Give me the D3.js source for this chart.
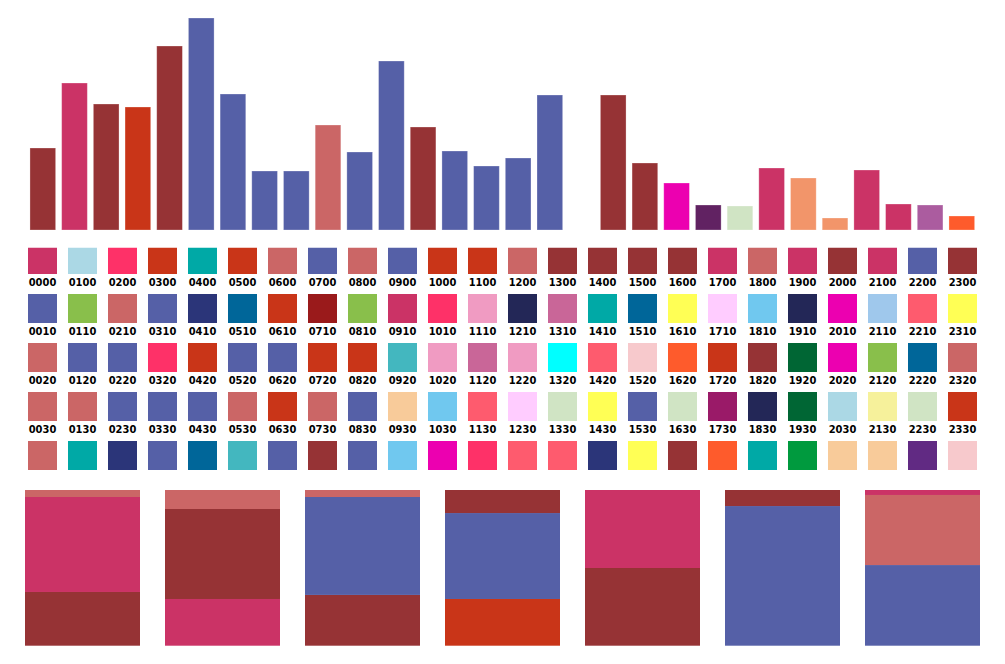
<!DOCTYPE html>
<html>
<head>
<meta charset="utf-8">
<script src="https://cdn.jsdelivr.net/npm/d3@7"></script>
<style>
  body { margin: 0; background: #fff; }
  .code-label { font-family: "DejaVu Sans Condensed", "DejaVu Sans", sans-serif; font-weight: bold; font-size: 11px; fill: #000; }
</style>
</head>
<body>
<div class="vis"></div>
<script>
//Width and height
var w = 1005;
var h = 664;

// colour for each category key
var palette = {
    maroon: "#963335", crimson: "#cb3366", coral: "#cb6666", blue: "#5560a7",
    redorange: "#c93518", lightblue: "#abd8e5", hotpink: "#fe3168", teal: "#00a9a6",
    navy: "#2b3579", ocean: "#006699", green: "#89bf4b", darkred: "#9a1a1b",
    midteal: "#43b7bf", pink: "#f09bc2", darknavy: "#232757", mauve: "#c96698",
    yellow: "#ffff55", lavender: "#ffccff", sky: "#70c8ef", magenta: "#ec00b0",
    steel: "#9fc8ec", salmon: "#fe5b6e", cyan: "#00ffff", palepink: "#f7c9cc",
    orange: "#fe5b2c", darkgreen: "#006634", peach: "#f8cb9a", palegreen: "#d0e4c4",
    plum: "#9a1a68", paleyellow: "#f6f19b", leaf: "#009a3e", violet: "#612a83",
    grape: "#612262", apricot: "#f2956a", orchid: "#ab5c9f"
};

// ---- top bar chart data ----
var barSlots = d3.range(30).map(function(i) { return "s" + i; });
var barValues = [82, 147, 126, 123, 184, 212, 136, 59, 59, 105, 78, 169, 103, 79, 64, 72, 135,
                 0, 135, 67, 47, 25, 24, 62, 52, 12, 60, 26, 25, 14];
var barKeys = ["maroon", "crimson", "maroon", "redorange", "maroon", "blue", "blue", "blue", "blue",
               "coral", "blue", "blue", "maroon", "blue", "blue", "blue", "blue",
               null, "maroon", "maroon", "magenta", "grape", "palegreen", "crimson", "apricot",
               "apricot", "crimson", "crimson", "orchid", "orange"];

// ---- middle swatch grid data ----
var hourLabels = ["00", "01", "02", "03", "04", "05", "06", "07", "08", "09", "10", "11",
                  "12", "13", "14", "15", "16", "17", "18", "19", "20", "21", "22", "23"];
var minuteLabels = ["00", "10", "20", "30"];
var gridRow0 = ["crimson", "lightblue", "hotpink", "redorange", "teal", "redorange", "coral", "blue",
                "coral", "blue", "redorange", "redorange", "coral", "maroon", "maroon", "maroon",
                "maroon", "crimson", "coral", "crimson", "maroon", "crimson", "blue", "maroon"];
var gridRow1 = ["blue", "green", "coral", "blue", "navy", "ocean", "redorange", "darkred",
                "green", "crimson", "hotpink", "pink", "darknavy", "mauve", "teal", "ocean",
                "yellow", "lavender", "sky", "darknavy", "magenta", "steel", "salmon", "yellow"];
var gridRow2 = ["coral", "blue", "blue", "hotpink", "redorange", "blue", "blue", "redorange",
                "redorange", "midteal", "pink", "mauve", "pink", "cyan", "salmon", "palepink",
                "orange", "redorange", "maroon", "darkgreen", "magenta", "green", "ocean", "coral"];
var gridRow3 = ["coral", "coral", "blue", "blue", "blue", "coral", "redorange", "coral",
                "blue", "peach", "sky", "salmon", "lavender", "palegreen", "yellow", "blue",
                "palegreen", "plum", "darknavy", "darkgreen", "lightblue", "paleyellow", "palegreen", "redorange"];
var gridRow4 = ["coral", "teal", "navy", "blue", "ocean", "midteal", "blue", "maroon",
                "blue", "sky", "magenta", "hotpink", "salmon", "salmon", "navy", "yellow",
                "maroon", "orange", "teal", "leaf", "peach", "peach", "violet", "palepink"];
var gridRows = [gridRow0, gridRow1, gridRow2, gridRow3, gridRow4];

// ---- bottom 100% stacks, segments listed bottom to top (share of column) ----
var stackColumns = ["c1", "c2", "c3", "c4", "c5", "c6", "c7"];
var stackSegments = [
    [["maroon", 0.345], ["crimson", 0.61], ["coral", 0.045]],
    [["crimson", 0.30], ["maroon", 0.578], ["coral", 0.122]],
    [["maroon", 0.326], ["blue", 0.629], ["coral", 0.045]],
    [["redorange", 0.30], ["blue", 0.552], ["maroon", 0.148]],
    [["maroon", 0.499], ["crimson", 0.501]],
    [["blue", 0.897], ["maroon", 0.103]],
    [["blue", 0.518], ["coral", 0.45], ["crimson", 0.032]]
];

var svg = d3.select(".vis")
    .append("svg")
    .attr("width", w)
    .attr("height", h);

// ---------- bar chart ----------
var xBar = d3.scaleBand()
    .domain(barSlots)
    .range([26.8, 977.8])
    .paddingInner(0.19)
    .paddingOuter(0.1);

var yBar = d3.scaleLinear()
    .domain([0, 212])
    .range([230, 18]);

var barData = barSlots.map(function(s, i) {
    return { slot: s, value: barValues[i], key: barKeys[i] };
}).filter(function(d) { return d.key; });

svg.append("g")
    .attr("class", "bars")
    .selectAll("rect")
    .data(barData)
    .enter()
    .append("rect")
    .attr("x", function(d) { return xBar(d.slot); })
    .attr("y", function(d) { return yBar(d.value); })
    .attr("width", xBar.bandwidth())
    .attr("height", function(d) { return yBar(0) - yBar(d.value); })
    .style("fill", function(d) { return palette[d.key]; })
    .style("stroke", "#fff")
    .style("stroke-opacity", 0.35)
    .style("stroke-width", 0.8);

// ---------- swatch grid ----------
var xGrid = d3.scaleBand()
    .domain(hourLabels)
    .range([28, 977])
    .paddingInner(0.275);

var yGrid = d3.scaleBand()
    .domain(d3.range(gridRows.length))
    .range([245, 470])
    .paddingInner(20 / 49)
    .paddingOuter(0);

// top row is cut a little by the bar area above it
svg.append("clipPath")
    .attr("id", "grid-clip")
    .append("rect")
    .attr("x", 0).attr("y", 247.7)
    .attr("width", w).attr("height", 240);

var grid = svg.append("g")
    .attr("class", "grid")
    .attr("clip-path", "url(#grid-clip)");

var cells = [];
gridRows.forEach(function(row, r) {
    row.forEach(function(key, c) {
        cells.push({ row: r, hour: hourLabels[c], key: key });
    });
});

grid.selectAll("rect")
    .data(cells)
    .enter()
    .append("rect")
    .attr("x", function(d) { return xGrid(d.hour); })
    .attr("y", function(d) { return yGrid(d.row); })
    .attr("width", xGrid.bandwidth())
    .attr("height", yGrid.bandwidth())
    .style("fill", function(d) { return palette[d.key]; });

// time code labels under first four rows
var codes = [];
minuteLabels.forEach(function(m, r) {
    hourLabels.forEach(function(hh) {
        codes.push({ row: r, hour: hh, text: hh + m });
    });
});

svg.append("g")
    .attr("class", "codes")
    .selectAll("text")
    .data(codes)
    .enter()
    .append("text")
    .attr("class", "code-label")
    .attr("x", function(d) { return xGrid(d.hour) + xGrid.bandwidth() / 2; })
    .attr("y", function(d) { return yGrid(d.row) + yGrid.bandwidth() + 12; })
    .attr("text-anchor", "middle")
    .text(function(d) { return d.text; });

// ---------- 100% stacked columns ----------
var xStack = d3.scaleBand()
    .domain(stackColumns)
    .range([25, 980])
    .paddingInner(0.1786)
    .paddingOuter(0);

var yStack = d3.scaleLinear()
    .domain([0, 1])
    .range([645.7, 490]);

var pieces = [];
stackSegments.forEach(function(segs, i) {
    var tops = d3.cumsum(segs, function(s) { return s[1]; });
    segs.forEach(function(s, j) {
        pieces.push({ col: stackColumns[i], key: s[0], y0: tops[j] - s[1], y1: tops[j] });
    });
});

svg.append("g")
    .attr("class", "stacks")
    .selectAll("rect")
    .data(pieces)
    .enter()
    .append("rect")
    .attr("x", function(d) { return xStack(d.col); })
    .attr("y", function(d) { return yStack(d.y1); })
    .attr("width", xStack.bandwidth())
    .attr("height", function(d) { return yStack(d.y0) - yStack(d.y1); })
    .style("fill", function(d) { return palette[d.key]; });
</script>
</body>
</html>
